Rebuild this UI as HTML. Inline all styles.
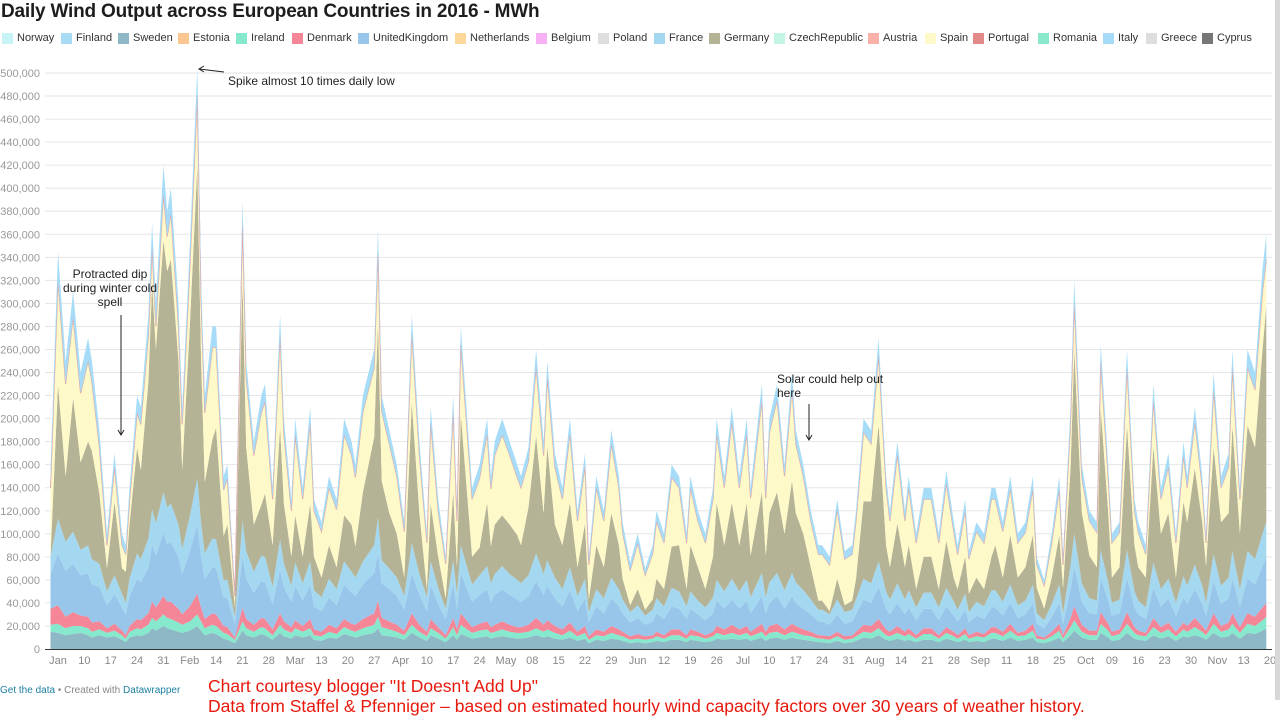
<!DOCTYPE html>
<html><head><meta charset="utf-8">
<style>
html,body{margin:0;padding:0;background:#fff;width:1280px;height:721px;overflow:hidden;font-family:"Liberation Sans",sans-serif}
#title{position:absolute;left:1px;top:1px;font-size:19px;font-weight:bold;color:#1d1d1d;letter-spacing:-0.2px;white-space:nowrap}
.leg{position:absolute;top:32px;font-size:11px;color:#333;white-space:nowrap;display:flex;align-items:center}
.leg span.sw{display:inline-block;width:11px;height:11px;margin-right:4px}
#foot{position:absolute;left:0;top:685px;font-size:10px;color:#888}
#foot b{font-weight:normal;color:#1d81a2}
.red{position:absolute;left:208px;color:#e8180c;font-size:17.5px;font-family:"Liberation Sans",sans-serif;white-space:nowrap;line-height:20px}
#scroll{position:absolute;left:1275px;top:0;width:5px;height:700px;background:#d8d8d8}
</style></head><body>
<div id="title">Daily Wind Output across European Countries in 2016 - MWh</div>
<div id="legend"></div>
<svg id="chart" width="1280" height="721" style="position:absolute;left:0;top:0"></svg>
<div id="foot"><b>Get the data</b> • Created with <b>Datawrapper</b></div>
<div class="red" style="top:676px">Chart courtesy blogger "It Doesn't Add Up"</div>
<div class="red" style="top:696px">Data from Staffel &amp; Pfenniger – based on estimated hourly wind capacity factors over 30 years of weather history.</div>
<div id="scroll"></div>
<script>
const legendNames=["Norway","Finland","Sweden","Estonia","Ireland","Denmark","UnitedKingdom","Netherlands","Belgium","Poland","France","Germany","CzechRepublic","Austria","Spain","Portugal","Romania","Italy","Greece","Cyprus"];
const legendColors=["#c8f4f8","#a8dcf5","#8fb8c6","#fcc690","#86e8cc","#f58698","#98c6eb","#fcd99a","#f8b0f4","#dedede","#a4d8f0","#b5b396","#c4f4e4","#fab2a8","#fdf9c8","#e28a8a","#8ae8cc","#a6dcf8","#dedede","#777777"];
const legendX=[2,61,118,178,236,292,358,455,536,598,654,709,774,868,925,973,1038,1103,1146,1202];

const days=[0,2,4,6,8,10,11,13,15,17,19,20,21,23,24,26,27,28,30,31,32,34,35,37,39,40,41,43,44,46,47,49,51,52,54,56,57,59,61,62,64,65,67,69,70,72,74,76,78,80,81,83,86,87,88,90,92,94,96,98,100,101,103,105,107,108,109,112,114,116,117,118,120,122,124,125,127,129,131,132,134,136,138,140,142,143,145,147,149,151,152,154,156,158,160,161,163,165,167,169,170,172,174,176,177,179,181,183,185,186,189,190,191,193,195,197,198,200,202,204,205,207,209,211,213,214,216,218,220,222,223,225,227,228,230,232,234,236,238,240,241,243,244,246,248,250,251,253,255,257,259,261,262,264,266,268,269,271,272,274,276,278,279,281,282,284,286,288,289,291,293,295,297,299,301,302,304,306,307,309,311,313,314,316,318,320,322,323];
const total=[130,345,250,310,240,270,250,190,100,170,100,90,140,220,210,290,370,300,420,380,400,300,210,350,505,320,220,280,280,150,160,50,390,250,180,220,230,140,290,200,130,200,140,210,130,110,150,130,200,180,160,220,260,365,220,190,160,110,290,180,100,210,130,80,220,120,280,140,160,200,150,180,200,180,160,150,175,260,180,250,170,140,200,120,170,80,150,120,190,150,110,75,100,70,90,120,100,160,150,100,150,120,100,140,200,150,210,150,200,140,230,140,200,230,160,240,190,160,120,90,90,80,130,85,90,120,200,190,270,150,120,180,120,150,100,140,140,100,155,110,90,130,85,110,100,140,140,110,150,100,110,150,80,60,100,150,80,210,320,160,120,110,265,160,100,110,260,130,110,90,230,140,170,100,180,150,210,150,100,240,150,170,260,140,260,240,330,360];
const nordic=[15,14,12,13,14,12,10,12,10,11,8,6,10,12,11,14,18,16,20,18,17,15,14,16,20,16,12,14,13,9,8,5,16,12,10,13,12,8,14,11,9,12,10,12,8,7,10,9,13,11,10,12,14,18,12,11,10,8,14,10,7,12,9,6,12,8,13,9,10,11,9,10,11,10,9,9,10,12,10,11,9,8,10,7,9,5,8,7,9,8,7,5,6,5,6,7,6,8,8,6,8,7,6,7,9,8,9,8,9,7,10,7,9,10,8,10,9,8,7,6,6,5,7,5,6,7,10,9,12,8,7,9,7,8,6,8,8,6,9,7,6,8,6,7,6,9,9,7,10,7,8,10,6,5,7,10,6,12,16,10,8,8,14,10,7,8,14,9,8,7,12,9,11,7,11,10,12,10,8,14,10,11,14,9,14,13,16,18];
const ireland=[6,8,6,7,6,6,5,5,4,5,4,3,5,6,6,7,9,8,10,9,9,8,7,8,10,8,6,7,7,5,5,3,8,6,5,6,6,4,7,6,5,6,5,6,4,4,5,4,6,5,5,6,7,10,7,6,5,4,7,5,4,6,5,3,7,4,8,5,6,6,5,5,6,5,5,5,5,6,5,6,5,4,6,4,5,3,4,4,5,4,4,3,3,3,3,4,3,4,4,3,4,4,3,4,5,4,5,4,5,4,5,4,5,5,4,5,5,4,4,3,3,3,4,3,3,4,5,5,6,4,4,5,4,5,3,5,5,3,5,4,3,5,3,4,4,5,5,4,6,4,4,6,3,3,4,6,3,7,9,5,4,4,8,6,4,5,8,5,4,4,7,5,6,4,6,5,7,5,4,8,5,6,8,5,8,7,9,10];
const denmark=[14,16,10,12,9,10,8,7,4,6,4,3,5,8,8,10,14,12,16,14,15,12,9,13,18,12,8,10,10,6,6,2,12,8,6,8,8,5,10,7,5,7,5,8,5,4,6,5,7,6,6,8,10,14,8,7,6,4,10,6,4,8,5,3,8,5,10,5,6,7,5,6,7,6,5,5,6,9,6,8,6,5,7,4,6,3,5,4,6,5,4,3,4,3,3,4,3,5,5,3,5,4,3,4,6,5,7,5,6,4,7,4,6,7,5,7,6,5,4,3,3,3,4,3,3,4,6,6,8,5,4,6,4,5,3,5,5,3,5,4,3,5,3,4,3,5,5,4,6,3,4,6,3,2,4,6,3,8,12,6,4,4,10,6,4,4,10,5,4,3,8,5,6,4,6,5,8,5,4,9,5,6,9,5,9,8,11,12];
const uk=[30,45,40,42,35,38,33,30,20,26,20,18,26,35,33,40,50,45,55,50,52,45,35,48,60,45,35,40,40,25,25,12,45,35,28,32,32,22,38,30,22,30,22,30,20,18,24,20,30,27,25,30,35,42,30,28,25,18,35,26,18,30,20,14,30,18,35,22,25,28,22,26,28,26,24,22,25,32,26,30,24,20,28,18,24,12,20,16,24,20,16,12,14,10,12,16,14,20,18,14,18,15,13,16,22,18,22,18,22,16,24,16,20,24,18,24,20,18,15,12,12,10,15,11,12,15,22,20,28,18,15,20,15,18,13,17,17,13,18,14,12,16,11,14,13,17,17,14,18,13,14,18,10,8,13,18,10,25,35,20,15,14,30,20,14,14,30,17,14,12,26,18,21,14,22,19,25,19,13,28,19,21,30,18,30,28,36,40];
const france=[15,30,25,28,22,24,22,20,12,16,12,10,15,22,20,25,30,28,35,32,33,28,22,30,40,28,22,25,25,15,16,6,30,24,18,22,22,15,26,20,14,20,15,20,14,12,16,14,20,18,16,20,24,30,20,18,16,12,26,18,12,20,14,9,20,13,24,15,17,20,16,18,20,18,17,16,18,24,18,22,18,15,20,13,17,9,15,13,18,15,12,9,11,8,10,13,11,16,15,11,15,12,11,14,18,15,18,15,18,14,20,14,18,20,16,20,18,16,13,10,10,9,13,10,10,13,18,17,22,15,13,17,13,15,11,14,14,11,16,12,10,14,9,12,11,15,15,12,16,11,12,16,9,7,11,16,9,20,28,16,13,12,24,16,11,12,24,14,12,10,22,15,17,11,18,16,21,16,11,23,16,18,24,15,24,22,28,30];
const spain=[60,90,80,70,60,70,60,40,20,30,20,15,20,30,40,40,30,20,40,30,40,30,40,50,60,50,60,80,70,40,40,10,50,60,60,80,80,40,80,60,40,70,50,70,40,40,50,50,70,60,60,70,60,60,60,60,50,40,60,50,40,70,40,30,70,40,60,50,60,60,50,60,70,60,50,50,40,60,50,60,50,40,60,40,50,30,50,40,60,50,40,30,40,30,40,50,40,60,50,40,50,40,40,50,60,50,70,50,60,50,80,50,70,80,50,80,60,50,40,40,40,40,60,40,40,50,60,50,60,50,40,60,40,50,40,50,50,40,50,40,30,40,30,40,40,50,40,40,40,30,30,40,20,20,30,40,20,40,40,30,30,30,40,30,30,30,50,30,30,20,40,30,40,30,40,30,40,30,20,50,30,40,50,30,50,50,50,40];
const italyEtc=[15,25,20,22,18,20,18,15,10,12,10,8,12,15,15,18,22,20,25,22,22,20,15,20,25,20,15,18,18,12,12,4,20,15,12,15,15,10,18,14,10,14,10,14,10,8,10,9,14,12,11,14,16,20,14,12,10,8,16,12,8,14,10,6,14,9,16,10,12,13,11,12,14,12,11,10,12,15,12,14,12,10,13,9,11,7,10,9,12,10,9,7,8,6,7,9,8,11,10,8,10,9,8,10,13,10,13,10,13,9,14,9,12,14,10,14,12,10,9,8,8,7,9,7,8,9,12,12,15,10,9,11,9,10,8,10,10,8,11,9,8,10,7,8,8,10,10,8,11,8,9,11,7,5,8,11,7,14,20,11,9,9,16,11,8,9,16,10,9,8,14,10,12,8,12,10,13,10,8,15,10,12,16,10,16,15,20,22];
const yTicks=[0,20,40,60,80,100,120,140,160,180,200,220,240,260,280,300,320,340,360,380,400,420,440,460,480,500];
const xTickLabels=["Jan","10","17","24","31","Feb","14","21","28","Mar","13","20","27","Apr","10","17","24","May","08","15","22","29","Jun","12","19","26","Jul","10","17","24","31","Aug","14","21","28","Sep","11","18","25","Oct","09","16","23","30","Nov","13","20"];
const xTickDays=[2,9,16,23,30,37,44,51,58,65,72,79,86,93,100,107,114,121,128,135,142,149,156,163,170,177,184,191,198,205,212,219,226,233,240,247,254,261,268,275,282,289,296,303,310,317,324];

const NS="http://www.w3.org/2000/svg";
const svg=document.getElementById('chart');
const X=d=>50.5+d*3.764;
const Y=v=>649-v*1.152;
function mk(tag,attrs,parent){const e=document.createElementNS(NS,tag);for(const k in attrs)e.setAttribute(k,attrs[k]);(parent||svg).appendChild(e);return e;}

const leg=document.getElementById('legend');
legendNames.forEach((n,i)=>{
  const d=document.createElement('div');d.className='leg';d.style.left=legendX[i]+'px';
  
  
  d.innerHTML='<span class="sw" style="background:'+legendColors[i]+'"></span>'+n;
  leg.appendChild(d);
});

yTicks.forEach(t=>{
  const y=Y(t);
  if(t>0){const g=mk('line',{x1:45,x2:1272,y1:y,y2:y,stroke:'#e6e6e6','stroke-width':1});
  
  }
  const tx=mk('text',{x:40,y:y+4,'text-anchor':'end','font-size':11,fill:'#999','font-family':'Liberation Sans'});
  tx.textContent=t===0?'0':t+',000';
  
  
});

const n=Math.min(days.length,total.length);
const germany=[];
for(let i=0;i<n;i++){const s=nordic[i]+ireland[i]+denmark[i]+uk[i]+france[i]+spain[i]+italyEtc[i];germany.push(Math.max(0,total[i]-s));}
const layers=[
 ['nordic-area',nordic,'#8fb8c6'],
 ['ireland-area',ireland,'#86e8cc'],
 ['denmark-area',denmark,'#f58698'],
 ['uk-area',uk,'#98c6eb'],
 ['france-area',france,'#a4d8f0'],
 ['germany-area',germany,'#b5b396'],
 ['spain-area',spain,'#fdf9c8'],
 ['italy-area',italyEtc,'#a6dcf8']
];
const base=new Array(n).fill(0);
layers.forEach(([name,arr,col])=>{
  const top=[];for(let i=0;i<n;i++)top.push(base[i]+arr[i]);
  let d='M'+X(days[0])+','+Y(top[0]);
  for(let i=1;i<n;i++)d+='L'+X(days[i]).toFixed(1)+','+Y(top[i]).toFixed(1);
  for(let i=n-1;i>=0;i--)d+='L'+X(days[i]).toFixed(1)+','+Y(base[i]).toFixed(1);
  d+='Z';
  const p=mk('path',{d:d,fill:col,stroke:'none'});
  
  
  if(name==='spain-area'){
    let l='M'+X(days[0])+','+Y(top[0]);
    for(let i=1;i<n;i++)l+='L'+X(days[i]).toFixed(1)+','+Y(top[i]).toFixed(1);
    const pl=mk('path',{d:l,fill:'none',stroke:'#e8a0a0','stroke-width':1});
    
    
  }
  for(let i=0;i<n;i++)base[i]=top[i];
});

const ax=mk('line',{x1:45,x2:1272,y1:649.5,y2:649.5,stroke:'#333','stroke-width':1});


xTickLabels.forEach((l,i)=>{
  const t=mk('text',{x:X(xTickDays[i]),y:664,'text-anchor':'middle','font-size':11,fill:'#888','font-family':'Liberation Sans'});
  t.textContent=l;
  
  
});

function ann(lines,x,y,anchor,name){
  const t=mk('text',{x:x,y:y,'text-anchor':anchor,'font-size':12,fill:'#222','font-family':'Liberation Sans'});
  lines.forEach((s,i)=>{const ts=mk('tspan',{x:x,dy:i?14:0},t);ts.textContent=s;});
  
  
}
ann(['Spike almost 10 times daily low'],228,85,'start','spike-annotation');
ann(['Protracted dip','during winter cold','spell'],110,278,'middle','cold-spell-annotation');
ann(['Solar could help out','here'],777,383,'start','solar-annotation');
const arrows=[['M224,72 L199,69','spike-arrow'],['M121,315 L121,435','cold-spell-arrow'],['M809,404 L809,440','solar-arrow']];
arrows.forEach(([d,nm])=>{
  const a=mk('path',{d:d,stroke:'#222','stroke-width':1,fill:'none'});
  
  
});
const heads=[['M204,66 L199,69 L204,72','spike-arrowhead'],['M118,430 L121,435 L124,430','cold-spell-arrowhead'],['M806,435 L809,440 L812,435','solar-arrowhead']];
heads.forEach(([d,nm])=>{
  const a=mk('path',{d:d,stroke:'#222','stroke-width':1,fill:'none'});
  
  
});
</script>
</body></html>
